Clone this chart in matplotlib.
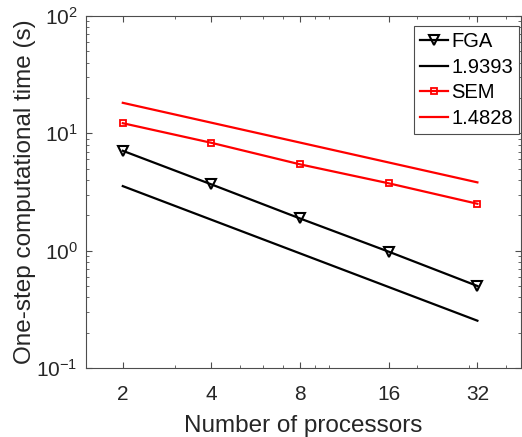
import numpy as np
import matplotlib
matplotlib.use("Agg")
import matplotlib.pyplot as plt
from matplotlib.ticker import LogLocator, NullFormatter, FixedLocator, FixedFormatter

plt.rcParams['font.family'] = ['Liberation Sans', 'DejaVu Sans']
plt.rcParams['mathtext.fontset'] = 'custom'
plt.rcParams['mathtext.rm'] = 'Liberation Sans'
plt.rcParams['mathtext.default'] = 'regular'

processors = [2, 4, 8, 16, 32]
fga_time = [7.1, 3.67, 1.88, 0.98, 0.50]
sem_time = [12.2, 8.3, 5.44, 3.75, 2.51]
ref_x = [2, 32]
fga_ref = [3.55, 0.253]
sem_ref = [18.2, 3.82]
labels = ['FGA', '1.9393', 'SEM', '1.4828']
xtick_labels = ['2', '4', '8', '16', '32']

fig = plt.figure(figsize=(5.22, 4.37), dpi=100)
ax = fig.add_axes([86/522, 1-368/437, 435/522, 352/437])

dark = (0.15, 0.15, 0.15)
spine_c = (0.3, 0.3, 0.3)
ax.plot(processors, fga_time, '-v', color='k', lw=1.6, ms=7.5, mfc='none', mew=1.5, label=labels[0])
ax.plot(ref_x, fga_ref, '-', color='k', lw=1.6, label=labels[1])
ax.plot(processors, sem_time, '-s', color='r', lw=1.6, ms=5, mfc='none', mew=1.3, label=labels[2])
ax.plot(ref_x, sem_ref, '-', color='r', lw=1.6, label=labels[3])

ax.set_xscale('log')
ax.set_yscale('log')
ax.set_xlim(1.5, 45)
ax.set_ylim(0.1, 100)

ax.xaxis.set_major_locator(FixedLocator(processors))
ax.xaxis.set_major_formatter(FixedFormatter(xtick_labels))
ax.xaxis.set_minor_locator(LogLocator(base=10, subs=np.arange(1, 10), numticks=20))
ax.xaxis.set_minor_formatter(NullFormatter())
ax.yaxis.set_minor_locator(LogLocator(base=10, subs=np.arange(2, 10), numticks=20))

ax.tick_params(which='both', direction='in', top=True, right=True, color=spine_c,
               labelcolor=dark, labelsize=15)
ax.tick_params(which='major', length=4, width=0.8)
ax.tick_params(which='minor', length=2, width=0.6)
ax.tick_params(axis='x', pad=12)
ax.tick_params(axis='y', pad=6)
for s in ax.spines.values():
    s.set_color(spine_c)
    s.set_linewidth(0.8)

ax.set_xlabel('Number of processors', fontsize=17.5, color=dark, labelpad=8)
ax.set_ylabel('One-step computational time (s)', fontsize=17.5, color=dark, labelpad=0)

leg = ax.legend(loc='upper right', bbox_to_anchor=(1 - 2/435, 1 - 10/352), borderaxespad=0,
                fontsize=14.5, handlelength=1.4, handletextpad=0.15,
                labelspacing=0.33, borderpad=0.3, fancybox=False,
                framealpha=1, edgecolor=spine_c)
leg.get_frame().set_linewidth(0.8)

fig.savefig('out.png', dpi=100)
